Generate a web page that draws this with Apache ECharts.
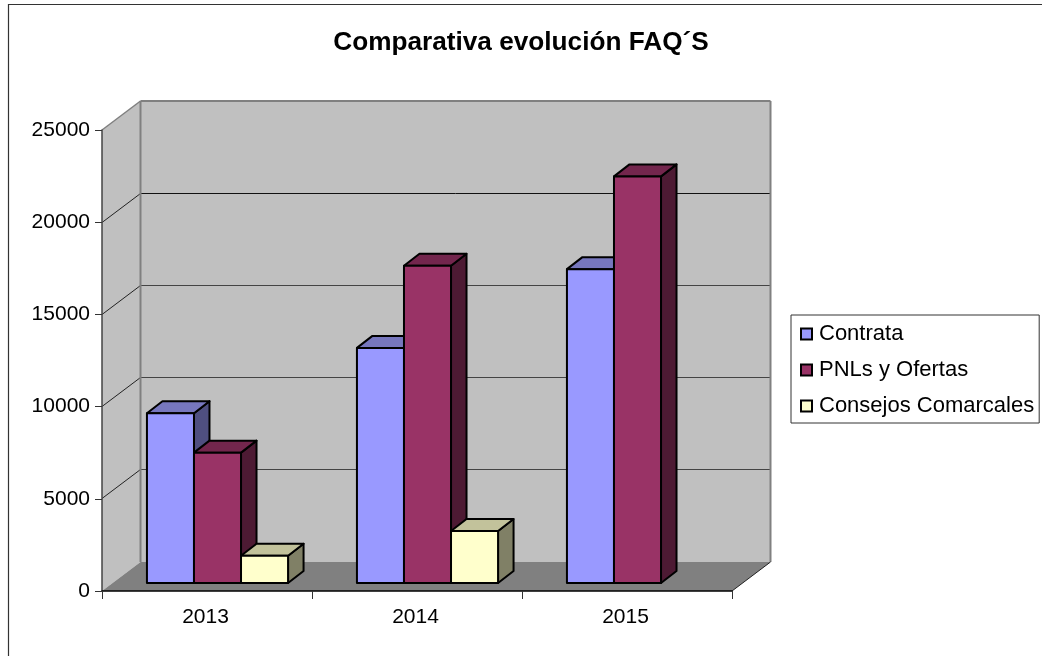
<!DOCTYPE html>
<html><head><meta charset="utf-8">
<style>html,body{margin:0;padding:0;background:#fff}#c{width:1042px;height:656px}</style>
<script src="https://cdn.jsdelivr.net/npm/echarts@6/dist/echarts.min.js"></script>
</head><body><div id="c"></div>
<script>
const categories = ['2013', '2014', '2015'];
const contrata = [9210, 12750, 17020];
const pnlsOfertas = [7070, 17200, 22050];
const consejos = [1480, 2820, null];
const yTicks = [5000, 10000, 15000, 20000, 25000];
const seriesNames = ['Contrata', 'PNLs y Ofertas', 'Consejos Comarcales'];

const FONT = '"Liberation Sans", Arial, sans-serif';
const WALL = {dx: 38.5, dy: 29};
const BAR = {dx: 15.5, dy: 12, shiftX: 10.5, shiftY: 8, widthRatio: 0.224};
const palette = [
  {front: '#9999FF', top: '#7777BE', side: '#4F4F80'},
  {front: '#993366', top: '#73264D', side: '#4D1A33'},
  {front: '#FFFFCC', top: '#C2C29B', side: '#808066'}
];

function poly(points, fill, stroke, lw) {
  return {type: 'polygon', shape: {points}, style: {fill, stroke: stroke || null, lineWidth: lw || 0, lineJoin: 'round'}};
}
function line(a, b, stroke, lw) {
  return {type: 'line', shape: {x1: a[0], y1: a[1], x2: b[0], y2: b[1]}, style: {stroke, lineWidth: lw}};
}
function renderWalls(params, api) {
  const g = params.coordSys;
  const L = g.x, R = g.x + g.width, T = g.y, B = g.y + g.height;
  const d = WALL;
  const children = [
    poly([[L + d.dx, T - d.dy], [R + d.dx, T - d.dy], [R + d.dx, B - d.dy], [L + d.dx, B - d.dy]], '#C0C0C0'),
    poly([[L, T], [L + d.dx, T - d.dy], [L + d.dx, B - d.dy], [L, B]], '#C0C0C0'),
    poly([[L, B], [L + d.dx, B - d.dy], [R + d.dx, B - d.dy], [R, B]], '#808080')
  ];
  yTicks.forEach(v => {
    const y = Math.floor(api.coord([0, v])[1]);
    const back = [L + d.dx, y - d.dy + 0.5];
    if (v < 25000) {
      children.push(line(back, [R + d.dx, y - d.dy + 0.5], v === 20000 ? '#111' : '#444', 1));
      children.push(line([L, y + 0.5], back, '#222', 1));
    }
  });
  children.push(line([L, T], [L + d.dx, T - d.dy], '#808080', 1.5));
  children.push(line([L + d.dx, T - d.dy], [R + d.dx, T - d.dy], '#808080', 2));
  children.push(line([R + d.dx, T - d.dy], [R + d.dx, B - d.dy], '#808080', 2));
  children.push(line([L + d.dx, T - d.dy], [L + d.dx, B - d.dy], '#808080', 2));
  children.push(line([R, B], [R + d.dx, B - d.dy], '#222', 1));
  return {type: 'group', children};
}
function makeBarRenderer(idx) {
  return function (params, api) {
    const v = api.value(1);
    if (v == null || isNaN(v)) return null;
    const cat = api.value(0);
    const base = api.coord([cat, 0]);
    const topPt = api.coord([cat, v]);
    const w = api.size([1, 0])[0] * BAR.widthRatio;
    const x0 = base[0] + BAR.shiftX + (idx - 1.5) * w;
    const x1 = x0 + w;
    const yb = base[1] - BAR.shiftY;
    const yt = topPt[1] - BAR.shiftY;
    const c = palette[idx];
    const dx = BAR.dx, dy = BAR.dy;
    return {type: 'group', children: [
      poly([[x1, yt], [x1 + dx, yt - dy], [x1 + dx, yb - dy], [x1, yb]], c.side, '#000', 2),
      poly([[x0, yt], [x0 + dx, yt - dy], [x1 + dx, yt - dy], [x1, yt]], c.top, '#000', 2),
      poly([[x0, yt], [x1, yt], [x1, yb], [x0, yb]], c.front, '#000', 2)
    ]};
  };
}
const valueLists = [contrata, pnlsOfertas, consejos];
const chart = echarts.init(document.getElementById('c'), null, {renderer: 'canvas'});
chart.setOption({
  animation: false,
  backgroundColor: '#fff',
  textStyle: {fontFamily: FONT},
  title: {
    text: 'Comparativa evolución FAQ´S', left: 'center', top: 25,
    textStyle: {fontFamily: FONT, fontWeight: 'bold', fontSize: 26.2, color: '#000'}
  },
  grid: {left: 102, right: 310, top: 130, bottom: 65, containLabel: false},
  xAxis: {
    type: 'category', data: categories, z: 5,
    axisLine: {lineStyle: {color: '#000', width: 1.5}},
    axisTick: {show: true, length: 8, alignWithLabel: false, lineStyle: {color: '#333', width: 1}},
    axisLabel: {fontFamily: FONT, fontSize: 21, color: '#000', margin: 16, interval: 0, padding: [0, 3, 0, 0]},
    splitLine: {show: false}
  },
  yAxis: {
    type: 'value', min: 0, max: 25000, interval: 5000, z: 5,
    axisLine: {show: true, lineStyle: {color: '#444', width: 1.5}},
    axisTick: {show: true, length: 7, lineStyle: {color: '#333', width: 1}},
    axisLabel: {fontFamily: FONT, fontSize: 21, color: '#000', margin: 12, formatter: v => String(v)},
    splitLine: {show: false}
  },
  legend: {
    orient: 'vertical', left: 791, top: 315, selectedMode: false,
    padding: [7, 5, 5, 9], itemGap: 12, itemWidth: 11, itemHeight: 11,
    backgroundColor: '#fff', borderColor: '#333', borderWidth: 1, borderRadius: 0,
    textStyle: {fontFamily: FONT, fontSize: 22, lineHeight: 24, color: '#000', padding: [0, 0, 0, 2]},
    data: seriesNames.map((n, i) => ({
      name: n, icon: 'rect',
      itemStyle: {color: palette[i].front, borderColor: '#000', borderWidth: 2}
    }))
  },
  graphic: [{
    type: 'rect', silent: true, z: 100,
    shape: {x: 8.5, y: 4.5, width: 1200, height: 900},
    style: {fill: null, stroke: '#333', lineWidth: 1.2}
  }],
  series: [
    {type: 'custom', name: 'walls', z: 1, silent: true, renderItem: renderWalls, data: [[0, 0]], encode: {x: 0, y: 1}}
  ].concat(seriesNames.map((n, i) => ({
    type: 'custom', name: n, z: 3 + i, silent: true,
    itemStyle: {color: palette[i].front},
    renderItem: makeBarRenderer(i),
    encode: {x: 0, y: 1},
    data: valueLists[i].map((v, k) => [k, v])
  })))
});
</script></body></html>
